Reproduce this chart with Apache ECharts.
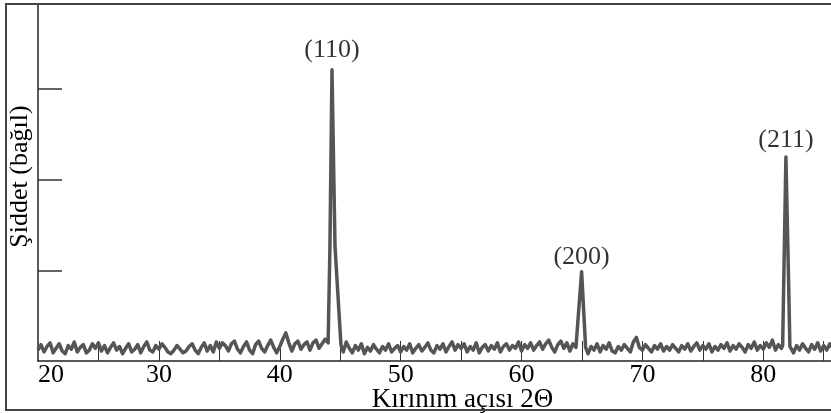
<!DOCTYPE html>
<html>
<head>
<meta charset="utf-8">
<script src="https://cdn.jsdelivr.net/npm/echarts@6/dist/echarts.min.js"></script>
<style>
html,body{margin:0;padding:0;background:#fff;}
#chart{width:831px;height:413px;}
</style>
</head>
<body>
<div id="chart"></div>
<script>
// Background (noise) intensity, from 20° in steps of 0.25°
const bgStart = 20;
const bgStep = 0.25;
const bgValues = [
  0.12,0.18,0.10,0.16,0.20,0.09,0.14,0.19,0.11,0.08,0.17,0.13,0.21,0.10,0.15,0.18,0.09,0.12,0.19,0.14,
  0.20,0.11,0.17,0.09,0.15,0.20,0.12,0.16,0.08,0.14,0.19,0.10,0.13,0.18,0.09,0.16,0.21,0.12,0.10,0.17,
  0.13,0.19,0.15,0.10,0.08,0.12,0.17,0.13,0.09,0.11,0.16,0.19,0.12,0.08,0.15,0.20,0.11,0.17,0.10,0.21,
  0.14,0.20,0.17,0.11,0.19,0.22,0.13,0.09,0.16,0.21,0.12,0.08,0.18,0.22,0.14,0.10,0.17,0.23,0.15,0.09,
  0.16,0.24,0.31,0.20,0.11,0.19,0.22,0.13,0.18,0.21,0.12,0.20,0.23,0.14,0.19,0.24,0.20,0.20,0.20,0.20,
  0.18,0.10,0.21,0.14,0.09,0.17,0.12,0.19,0.08,0.15,0.11,0.18,0.13,0.09,0.16,0.12,0.19,0.10,0.14,0.17,
  0.10,0.16,0.12,0.19,0.09,0.14,0.18,0.11,0.15,0.20,0.12,0.09,0.17,0.13,0.19,0.10,0.16,0.21,0.12,0.18,
  0.14,0.19,0.10,0.16,0.12,0.20,0.09,0.15,0.18,0.11,0.17,0.13,0.20,0.10,0.16,0.19,0.12,0.17,0.14,0.21,
  0.11,0.18,0.14,0.20,0.12,0.17,0.21,0.13,0.19,0.23,0.15,0.10,0.18,0.22,0.14,0.20,0.11,0.19,0.15,0.15,
  0.15,0.14,0.08,0.16,0.12,0.19,0.10,0.17,0.13,0.20,0.11,0.09,0.16,0.12,0.18,0.14,0.10,0.21,0.26,0.15,
  0.12,0.18,0.14,0.10,0.17,0.13,0.19,0.11,0.16,0.12,0.18,0.14,0.10,0.17,0.13,0.19,0.11,0.16,0.20,0.12,
  0.17,0.13,0.19,0.10,0.16,0.12,0.18,0.14,0.20,0.11,0.17,0.13,0.19,0.15,0.10,0.18,0.14,0.21,0.12,0.17,
  0.13,0.20,0.15,0.23,0.12,0.18,0.14,0.15,0.15,0.15,0.09,0.17,0.12,0.19,0.14,0.10,0.18,0.13,0.20,0.11,
  0.17,0.12,0.19,0.14
];
// Diffraction peaks: [2θ, intensity]
const peak110 = [[44.05,0.20],[44.15,1.26],[44.32,3.21],[44.57,1.26],[45.06,0.18]];
const peak200 = [[64.66,0.16],[64.97,0.985],[65.30,0.15]];
const peak211 = [[81.60,0.17],[81.87,2.25],[82.09,0.89],[82.20,0.16]];
const peakNames = ['(110)','(200)','(211)'];
const peakX = [44.32, 64.97, 81.87];
const peakY = [3.21, 0.985, 2.25];
const peakDist = [7, 1, 4];

const xLabelValues = [20,30,40,50,60,70,80];
const xTickValues = [25,30,35,40,45,50,55,60,65,70,75,80,85];
const yTickValues = [1,2,3];

const peaks = [peak110, peak200, peak211];
let pts = [];
bgValues.forEach((v,i)=>{
  const x = bgStart + i*bgStep;
  const inPeak = peaks.some(p => x >= p[0][0] && x <= p[p.length-1][0]);
  if (!inPeak) pts.push([x, v]);
});
peaks.forEach(p => p.forEach(q => pts.push(q)));
pts.sort((a,b)=>a[0]-b[0]);

const serif = 'Liberation Serif, Times New Roman, serif';
const chart = echarts.init(document.getElementById('chart'));
chart.setOption({
  animation: false,
  backgroundColor: '#fff',
  graphic: [{
    type: 'rect',
    shape: {x: 6, y: 4, width: 840, height: 406},
    style: {fill: 'none', stroke: '#444', lineWidth: 2},
    z: 100
  }],
  grid: {left: 38, right: 0, top: 4, bottom: 52, outerBoundsMode: 'none', containLabel: false},
  xAxis: {
    type: 'value',
    min: 20, max: 85.6,
    name: 'Kırınım açısı 2Θ',
    nameLocation: 'middle',
    nameGap: 25,
    nameMoveOverlap: false,
    nameTextStyle: {fontFamily: serif, fontSize: 27, color: '#000', padding: [0,0,0,56]},
    axisLine: {show: true, onZero: false, lineStyle: {color: '#222', width: 1.5}},
    axisTick: {show: true, inside: true, length: 20, customValues: xTickValues, lineStyle: {color: '#333', width: 1}},
    axisLabel: {show: true, customValues: xLabelValues, fontFamily: serif, fontSize: 26, color: '#000', margin: 1, alignMinLabel: 'left'},
    splitLine: {show: false}
  },
  yAxis: {
    type: 'value',
    min: 0, max: 3.936,
    name: 'Şiddet (bağıl)',
    nameLocation: 'middle',
    nameGap: 5,
    nameRotate: 90,
    nameMoveOverlap: false,
    nameTextStyle: {fontFamily: serif, fontSize: 26, color: '#000', padding: [0,0,0,12]},
    axisLine: {show: true, lineStyle: {color: '#222', width: 1.5}},
    axisTick: {show: true, inside: true, length: 24, customValues: yTickValues, lineStyle: {color: '#333', width: 1.5}},
    axisLabel: {show: false},
    splitLine: {show: false}
  },
  series: [{
    type: 'line',
    data: pts,
    showSymbol: false,
    symbol: 'none',
    lineStyle: {color: '#555', width: 3.5, join: 'round'},
    z: 3
  },{
    type: 'scatter',
    symbolSize: 0,
    data: peakNames.map((n,i)=>({value:[peakX[i], peakY[i]], name: n, label:{distance: peakDist[i]}})),
    label: {show: true, position: 'top', formatter: p => p.name, fontFamily: serif, fontSize: 26, color: '#000'},
    z: 4
  }]
});
</script>
</body>
</html>
